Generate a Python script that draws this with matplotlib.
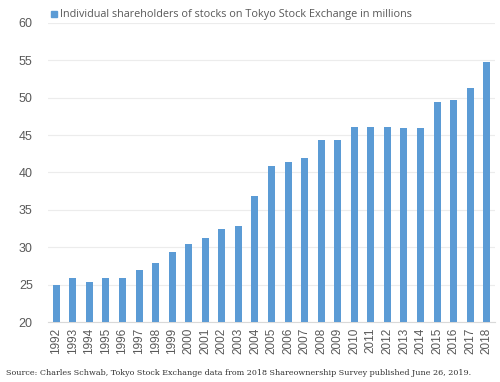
import matplotlib.pyplot as plt
from matplotlib.patches import Rectangle

years = [str(y) for y in range(1992, 2019)]
shareholders = [24.9, 25.9, 25.4, 25.9, 25.9, 27.0, 27.9, 29.4, 30.4, 31.2, 32.4, 32.9,
                36.9, 40.9, 41.4, 41.9, 44.4, 44.4, 46.1, 46.1, 46.1, 45.9, 45.9,
                49.4, 49.7, 51.3, 54.8]
yticks = [20, 25, 30, 35, 40, 45, 50, 55, 60]

bar_color = "#5B9BD5"
text_color = "#595959"

fig = plt.figure(figsize=(5, 3.82), dpi=100)
ax = fig.add_axes([0.096, 0.157, 0.894, 0.783])

ax.bar(years, shareholders, width=0.42, color=bar_color, zorder=3)
ax.set_ylim(20, 60)
ax.set_yticks(yticks)
ax.set_xlim(-0.5, len(years) - 0.5)
ax.grid(axis="y", color="#ececec", linewidth=0.8, zorder=0)
for s in ["top", "right", "left"]:
    ax.spines[s].set_visible(False)
ax.spines["bottom"].set_color("#d9d9d9")
ax.tick_params(axis="both", length=0, colors=text_color)
ax.tick_params(axis="x", labelrotation=90, pad=4, labelsize=8.5)
ax.tick_params(axis="y", pad=11, labelsize=9)
for lbl in ax.get_xticklabels() + ax.get_yticklabels():
    lbl.set_family("Liberation Sans")

# legend-like header
fig.patches.append(Rectangle((0.102, 0.956), 0.011, 0.0145, transform=fig.transFigure,
                             color=bar_color, figure=fig))
fig.text(0.119, 0.963, "Individual shareholders of stocks on Tokyo Stock Exchange in millions",
         fontsize=7.85, color=text_color, va="center", family="Open Sans")

fig.text(0.012, 0.024,
         "Source: Charles Schwab, Tokyo Stock Exchange data from 2018 Shareownership Survey published June 26, 2019.",
         fontsize=5.75, color="#333333", va="center", family="DejaVu Serif")

fig.savefig("out.png", dpi=100)
